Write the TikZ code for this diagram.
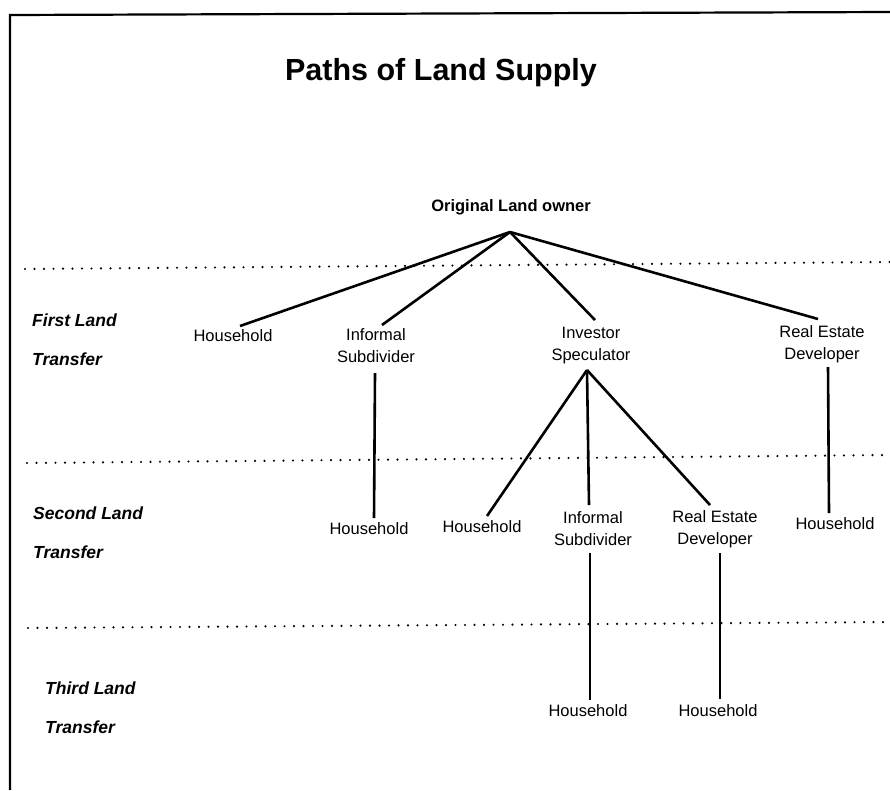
\documentclass[tikz,border=0pt]{standalone}
\usepackage{fontspec}
\setmainfont{Liberation Sans}
\usetikzlibrary{calc}
\tikzset{
  lbl/.style={font=\fontsize{16.5}{22}\selectfont, inner sep=0pt, align=center},
  lvl/.style={font=\bfseries\itshape\fontsize{17.5}{39}\selectfont, inner sep=0pt, align=left, anchor=north west},
  conn/.style={line width=2.6pt},
  dots/.style={line width=2.4pt, line cap=round, dash pattern=on 0pt off 9.5pt},
  frame/.style={line width=2.2pt}
}
\newcommand{\fl}{\rule{0pt}{12pt}}
\newcommand{\fm}{\rule{0pt}{13pt}}
\begin{document}
\begin{tikzpicture}[x=1pt,y=-1pt]
\useasboundingbox (0,0) rectangle (890,790);
% frame
\draw[frame] (10,790) -- (10,15) -- (890,12);
% dotted separators
\draw[dots] (25,269) -- (890,262);
\draw[dots] (27,463) -- (890,455);
\draw[dots] (28,628) -- (890,622);
% title
\node[anchor=base, inner sep=0pt, font=\bfseries\fontsize{30.5}{36}\selectfont] (title) at (441,80) {Paths of Land Supply};
% level labels
\node[lvl] (lv1) at (32,313) {\fm First Land\\Transfer};
\node[lvl] (lv2) at (33,506) {\fm Second Land\\Transfer};
\node[lvl] (lv3) at (45,681) {\fm Third Land\\Transfer};
% nodes
\node[anchor=base, inner sep=0pt, font=\bfseries\fontsize{16.5}{20}\selectfont] (olo) at (511,211) {Original Land owner};
\node[lbl, anchor=base] (hh1) at (233,341) {Household};
\node[lbl, anchor=north] (is1) at (376,328) {\fl Informal\\Subdivider};
\node[lbl, anchor=north] (iv1) at (591,326) {\fl Investor\\Speculator};
\node[lbl, anchor=north] (rd1) at (822,325) {\fl Real Estate\\Developer};
\node[lbl, anchor=base] (hh2) at (369,534) {Household};
\node[lbl, anchor=base] (hh3) at (482,532) {Household};
\node[lbl, anchor=north] (is2) at (593,511) {\fl Informal\\Subdivider};
\node[lbl, anchor=north] (rd2) at (715,510) {\fl Real Estate\\Developer};
\node[lbl, anchor=base] (hh4) at (835,529) {Household};
\node[lbl, anchor=base] (hh5) at (588,716) {Household};
\node[lbl, anchor=base] (hh6) at (718,716) {Household};
% connectors
\draw[conn] ($(olo.base)+(-1,21)$) -- ($(hh1.base)+(7,-15)$);
\draw[conn] ($(olo.base)+(-1,21)$) -- ($(is1.north)+(6,-3)$);
\draw[conn] ($(olo.base)+(-1,21)$) -- ($(iv1.north)+(4,-6)$);
\draw[conn] ($(olo.base)+(-1,21)$) -- ($(rd1.north)+(-4,-6)$);
\draw[conn] ($(is1.north)+(-1,45)$) -- ($(hh2.base)+(5,-16)$);
\draw[conn] ($(iv1.north)+(-4,44)$) -- ($(hh3.base)+(5,-16)$);
\draw[conn] ($(iv1.north)+(-4,44)$) -- ($(is2.north)+(-4,-6)$);
\draw[conn] ($(iv1.north)+(-4,44)$) -- ($(rd2.north)+(-5,-5)$);
\draw[conn] ($(rd1.north)+(6,42)$) -- ($(hh4.base)+(-6,-16)$);
\draw[conn] ($(is2.north)+(-3,42)$) -- ($(hh5.base)+(2,-16)$);
\draw[conn] ($(rd2.north)+(5,43)$) -- ($(hh6.base)+(2,-17)$);
\end{tikzpicture}
\end{document}
